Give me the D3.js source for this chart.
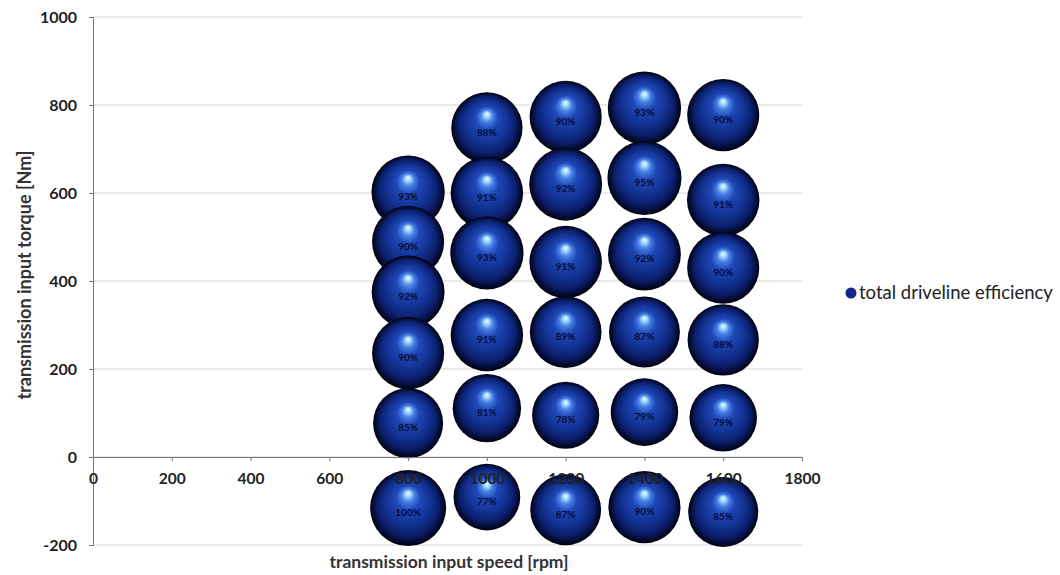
<!DOCTYPE html>
<html>
<head>
<meta charset="utf-8">
<script src="https://cdn.jsdelivr.net/npm/d3@7"></script>
<style>
  html, body { margin: 0; padding: 0; background: #fff; overflow: hidden; }
  svg { display: block; font-family: Lato, "Open Sans", sans-serif; }
</style>
</head>
<body>
<svg id="chart" width="1060" height="575"></svg>
<script>
// ---- data ----
const speed = [
  800, 800, 800, 800, 800, 800,
  1000, 1000, 1000, 1000, 1000, 1000,
  1200, 1200, 1200, 1200, 1200, 1200,
  1400, 1400, 1400, 1400, 1400, 1400,
  1600, 1600, 1600, 1600, 1600, 1600
];
const torque = [
  602, 489, 375, 236, 77, -116,
  748, 600, 464, 277, 111, -91,
  773, 620, 443, 284, 95, -120,
  793, 634, 461, 284, 102, -114,
  777, 584, 430, 266, 89, -125
];
const efficiency = [
  93, 90, 92, 90, 85, 100,
  88, 91, 93, 91, 81, 77,
  90, 92, 91, 89, 78, 87,
  93, 95, 92, 87, 79, 90,
  90, 91, 90, 88, 79, 85
];
const xTicks = [0, 200, 400, 600, 800, 1000, 1200, 1400, 1600, 1800];
const yTicks = [-200, 0, 200, 400, 600, 800, 1000];
const seriesName = "total driveline efficiency";
const xTitle = "transmission input speed [rpm]";
const yTitle = "transmission input torque [Nm]";

(function () {
const points = speed.map((s, i) => ({ x: s, y: torque[i], v: efficiency[i] }));

// ---- layout ----
const svg = d3.select("#chart");
const pL = 93, pR = 802, pT = 17, pB = 545;
const x = d3.scaleLinear().domain([0, 1800]).range([pL, pR]);
const y = d3.scaleLinear().domain([-200, 1000]).range([pB, pT]);
const r = d3.scaleSqrt().domain([0, 100]).range([0, 38]);

// gradient for the 3D sphere look
const defs = svg.append("defs");
const grad = defs.append("radialGradient").attr("id", "sphere")
  .attr("cx", 0.5).attr("cy", 0.5).attr("r", 0.5)
  .attr("fx", 0.5).attr("fy", 0.3);
[[0, "#f2ffff"], [0.07, "#a6dcff"], [0.17, "#4a82e6"], [0.32, "#1f48b8"],
 [0.6, "#133293"], [0.8, "#0b1f6c"], [0.93, "#040c32"], [1, "#00000c"]]
  .forEach(([o, c]) => grad.append("stop").attr("offset", o).attr("stop-color", c));

// gridlines
svg.append("g")
  .selectAll("line").data(yTicks).join("line")
  .attr("x1", pL).attr("x2", pR)
  .attr("y1", d => y(d)).attr("y2", d => y(d))
  .attr("stroke", "#d4d4d4").attr("stroke-width", 1);

// y axis
const yAxis = svg.append("g").attr("transform", `translate(${pL},0)`)
  .call(d3.axisLeft(y).tickValues(yTicks).tickSize(4).tickPadding(12).tickFormat(d => String(d)));
yAxis.select(".domain").attr("stroke", "#777");
yAxis.selectAll(".tick line").attr("stroke", "#777");
yAxis.selectAll("text").attr("font-size", 16).attr("font-weight", 700).attr("fill", "#222")
  .attr("font-family", "Lato, sans-serif");

// bubbles
const bub = svg.append("g");
bub.selectAll("circle").data(points).join("circle")
  .attr("cx", d => x(d.x)).attr("cy", d => y(d.y)).attr("r", d => r(d.v))
  .attr("fill", "url(#sphere)");
bub.selectAll("text").data(points).join("text")
  .attr("x", d => x(d.x)).attr("y", d => y(d.y) + 8)
  .attr("text-anchor", "middle")
  .attr("font-size", 10).attr("font-weight", 700)
  .attr("fill", "#070c33")
  .text(d => d.v + "%");

// x axis (crosses at 0), drawn on top
const xAxis = svg.append("g").attr("transform", `translate(0,${y(0)})`)
  .call(d3.axisBottom(x).tickValues(xTicks).tickSize(4).tickPadding(12).tickFormat(d => String(d)));
xAxis.select(".domain").attr("stroke", "#777");
xAxis.selectAll(".tick line").attr("stroke", "#777");
xAxis.selectAll("text").attr("font-size", 15.5).attr("font-weight", 700).attr("fill", "#222")
  .attr("font-family", "Lato, sans-serif");

// axis titles
svg.append("text")
  .attr("x", 449).attr("y", 568)
  .attr("text-anchor", "middle")
  .attr("font-size", 17.5).attr("font-weight", 700).attr("fill", "#333")
  .text(xTitle);
svg.append("text")
  .attr("transform", `translate(31,${(pT + pB) / 2 - 6}) rotate(-90)`)
  .attr("text-anchor", "middle")
  .attr("font-size", 18).attr("font-weight", 700).attr("fill", "#333")
  .text(yTitle);

// legend
const lg = svg.append("g").attr("transform", "translate(851,293)");
lg.append("circle").attr("r", 5.5).attr("fill", "#16248a");
lg.append("text").attr("x", 8).attr("y", 6)
  .attr("font-size", 18.5).attr("fill", "#222")
  .text(seriesName);
})();
</script>
</body>
</html>
